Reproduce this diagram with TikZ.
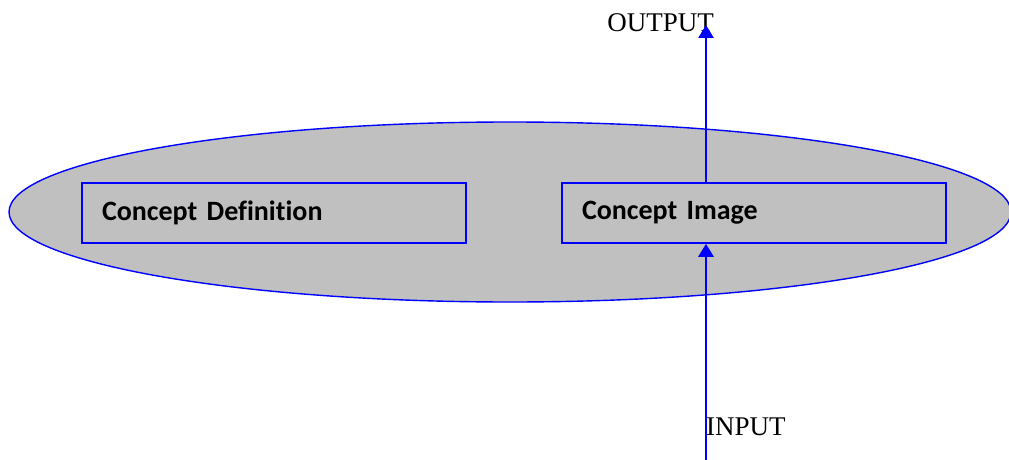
\documentclass[tikz,border=0pt]{standalone}
\usepackage{fontspec}
\setmainfont{Liberation Serif}
\newfontfamily\boxfont[Ligatures=NoCommon]{Carlito}
\usetikzlibrary{shapes.geometric,positioning,arrows.meta}

\definecolor{silver}{RGB}{192,192,192}

\begin{document}
\begin{tikzpicture}[x=1pt,y=-1pt,
  concept/.style={draw=blue,fill=silver,line width=1.6pt,minimum width=384pt,minimum height=60pt,
    text width=344pt,inner xsep=20pt,align=left,font=\boxfont\bfseries\fontsize{28}{32}\selectfont},
  flow/.style={draw=blue,line width=2.8pt,-{Triangle[width=15pt,length=13pt]}},
  lbl/.style={font=\fontsize{27}{32}\selectfont,inner sep=0pt}]
  \useasboundingbox (0,0) rectangle (1009,460);
                      \node[ellipse, draw=blue, fill=silver, line width=1.4pt,
                            minimum width=1002pt, minimum height=180pt] (pool) at (510,212) {};
                      \node[concept] (def) at (274,213) {Concept Definition};
                      \node[concept] (img) at (754,213) {Concept Image};
                      \coordinate (intail) at (706,460);
                      \coordinate (outtip) at (706,25);
                      \node[lbl, anchor=base east] (outlbl) at (714,32) {OUTPUT};
                      \node[lbl, anchor=base west] (inlbl) at (706,435) {INPUT};
                      \draw[flow] (intail) -- (img.south -| intail);
                      \draw[flow] (img.north -| outtip) -- (outtip);
                  \end{tikzpicture}
\end{document}
